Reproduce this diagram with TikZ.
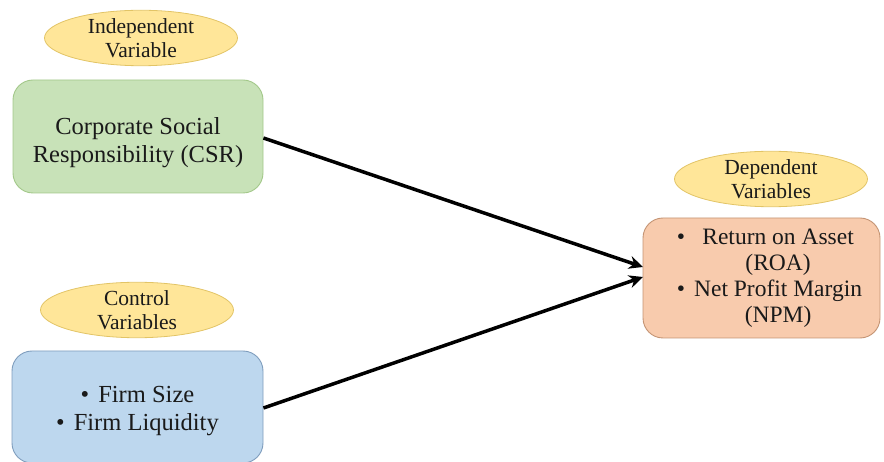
\documentclass[tikz,border=0pt]{standalone}
\usepackage{fontspec}
\setmainfont{Liberation Serif}
\usetikzlibrary{shapes.geometric,arrows.meta}
\definecolor{ygfill}{HTML}{FFE699}
\definecolor{ygdraw}{HTML}{E2C466}
\definecolor{gnfill}{HTML}{C8E2B8}
\definecolor{gndraw}{HTML}{A3C88A}
\definecolor{blfill}{HTML}{BDD7EE}
\definecolor{bldraw}{HTML}{7F9DBD}
\definecolor{orfill}{HTML}{F8CBAD}
\definecolor{ordraw}{HTML}{C49474}
\definecolor{txt}{HTML}{1A1A1A}
\begin{document}
\begin{tikzpicture}[x=1pt,y=-1pt,
  tag/.style={ellipse,fill=ygfill,draw=ygdraw,line width=0.8pt,minimum width=193pt,minimum height=52pt,inner sep=0pt,align=center,font=\fontsize{21.5}{24}\selectfont,text=txt},
  box/.style={rounded corners=20pt,line width=0.9pt,inner sep=0pt},
  boxtext/.style={inner sep=0pt,align=center,font=\fontsize{24.5}{28}\selectfont,text=txt},
  link/.style={line width=3.5pt,-{Stealth[length=14pt,width=13pt]}}]
\useasboundingbox (0,0) rectangle (884,462);
\node[tag] (iv) at (141,38) {Independent\\Variable};
\node[box,fill=gnfill,draw=gndraw,minimum width=250pt,minimum height=113pt] (csr) at (138,136.5) {};
\node[boxtext] (csrt) at ([yshift=-6pt]csr.center) {Corporate Social\\Responsibility (CSR)};
\node[tag,minimum height=50pt] (cv) at (137,310) {Control\\Variables};
\node[box,fill=blfill,draw=bldraw,minimum width=251pt,minimum height=112pt] (ctl) at (137.5,407) {};
\node[boxtext] (ctlt) at ([yshift=-4pt]ctl.center) {\textbullet\hspace{9pt}Firm Size\\\textbullet\hspace{9pt}Firm Liquidity};
\node[tag] (dv) at (771,179) {Dependent\\Variables};
\node[box,fill=orfill,draw=ordraw,minimum width=237pt,minimum height=120pt] (dep) at (761.5,278) {};
\node[boxtext,font=\fontsize{23.5}{26}\selectfont] (dept) at ([xshift=8pt]dep.center) {\begin{tabular}{@{}c@{\hspace{9pt}}c@{}}\textbullet & Return on Asset\\ & (ROA)\\ \textbullet & Net Profit Margin\\ & (NPM)\end{tabular}};
\coordinate (a1) at (643,267);
\coordinate (a2) at (643,277);
\draw[link] (csr.east |- 0,138) -- (a1);
\draw[link] (ctl.east |- 0,408) -- (a2);
\end{tikzpicture}
\end{document}
